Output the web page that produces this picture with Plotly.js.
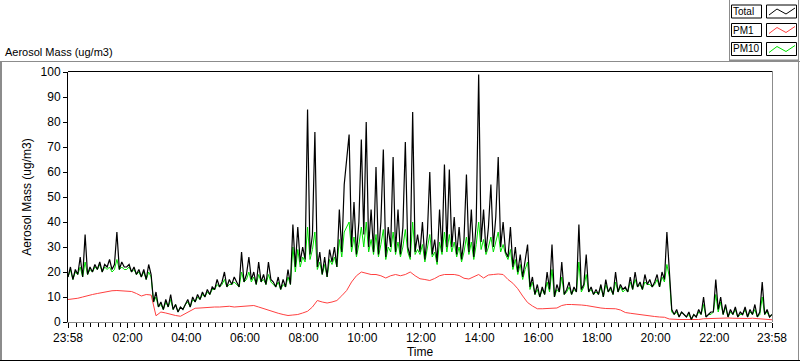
<!DOCTYPE html>
<html><head><meta charset="utf-8">
<script src="https://cdn.plot.ly/plotly-3.0.1.min.js"></script>
<style>html,body{margin:0;padding:0;background:#fff}#chart{width:800px;height:361px}</style>
</head><body><div id="chart"></div>
<script>
// ---- data ----
const startTime = Date.UTC(2000, 0, 1, 23, 58);
const stepMinutes = 5;      // Total and PM10 sampling
const pm1StepMinutes = 10;  // PM1 sampling

const total = [
  18, 22, 17, 21, 19, 26, 18, 35, 19, 22, 20, 23,
  21, 24, 20, 23, 22, 25, 21, 23, 36, 21, 24, 22,
  22, 23, 20, 22, 19, 21, 18, 21, 17, 23, 19, 8,
  12, 6, 8, 5, 9, 6, 11, 5, 7, 4, 6, 5,
  7, 9, 6, 10, 8, 11, 9, 12, 10, 13, 11, 14,
  13, 17, 14, 16, 20, 14, 17, 15, 18, 16, 14, 28,
  16, 19, 26, 17, 20, 15, 24, 16, 19, 15, 24, 17,
  16, 14, 18, 13, 17, 14, 21, 15, 39, 22, 38, 24,
  30, 25, 85, 27, 35, 76, 22, 28, 19, 26, 18, 29,
  24, 30, 22, 45, 28, 55, 64, 75, 30, 48, 27, 40,
  73, 35, 80, 30, 45, 28, 62, 27, 40, 69, 26, 38,
  30, 66, 28, 45, 27, 38, 72, 30, 26, 84, 28, 35,
  28, 40, 25, 35, 60, 27, 33, 24, 45, 28, 63, 30,
  61, 30, 42, 27, 38, 25, 33, 59, 28, 45, 26, 40,
  99, 32, 45, 28, 38, 55, 30, 42, 66, 30, 40, 28,
  26, 38, 22, 30, 20, 27, 18, 24, 31, 14, 18, 11,
  15, 10, 14, 11, 20, 13, 31, 10, 15, 12, 24, 11,
  13, 16, 11, 14, 12, 39, 13, 15, 27, 12, 14, 11,
  13, 11, 15, 10, 17, 12, 14, 11, 20, 12, 15, 13,
  14, 12, 18, 13, 20, 14, 16, 13, 19, 15, 17, 14,
  16, 19, 14, 20, 17, 36, 22, 5, 3, 5, 2, 4,
  3, 2, 4, 1, 3, 2, 5, 3, 10, 2, 3, 4,
  4, 17, 5, 10, 3, 7, 2, 5, 3, 6, 2, 4,
  3, 6, 2, 5, 3, 7, 2, 4, 16, 3, 5, 2,
  3
];

const pm10 = [
  18, 21, 17, 20, 19, 22, 18, 24, 19, 21, 20, 22,
  21, 23, 20, 22, 21, 22, 20, 21, 25, 21, 22, 21,
  21, 22, 20, 21, 19, 20, 18, 20, 17, 20, 18, 8,
  10, 6, 7, 5, 8, 6, 9, 5, 7, 4, 6, 5,
  7, 8, 6, 9, 8, 10, 9, 11, 10, 12, 11, 13,
  13, 15, 14, 15, 17, 14, 15, 15, 16, 15, 14, 20,
  16, 17, 20, 16, 18, 15, 19, 16, 17, 15, 19, 16,
  15, 14, 16, 13, 15, 14, 18, 15, 30, 20, 29, 22,
  26, 24, 38, 25, 29, 36, 21, 24, 19, 23, 18, 25,
  23, 26, 22, 33, 26, 36, 38, 40, 28, 34, 26, 31,
  38, 30, 40, 28, 33, 27, 35, 26, 31, 37, 25, 30,
  28, 36, 27, 32, 26, 30, 37, 28, 25, 40, 27, 29,
  27, 31, 24, 29, 35, 26, 28, 23, 32, 27, 36, 28,
  35, 28, 32, 26, 30, 24, 28, 34, 27, 32, 25, 31,
  40, 29, 33, 27, 30, 34, 28, 32, 36, 28, 31, 27,
  25, 29, 21, 25, 19, 23, 17, 21, 24, 13, 16, 11,
  13, 10, 13, 11, 16, 12, 21, 10, 13, 12, 18, 11,
  12, 14, 11, 13, 12, 24, 12, 14, 19, 12, 13, 11,
  12, 11, 14, 10, 15, 12, 13, 11, 16, 12, 14, 12,
  13, 12, 16, 13, 17, 14, 15, 13, 16, 15, 15, 14,
  15, 17, 14, 18, 16, 23, 18, 4, 3, 4, 2, 4,
  3, 2, 3, 1, 3, 2, 4, 3, 7, 2, 3, 3,
  4, 11, 4, 8, 3, 6, 2, 4, 3, 5, 2, 3,
  3, 5, 2, 4, 3, 5, 2, 3, 10, 3, 4, 2,
  3
];

const pm1 = [
  9, 9.2, 9.5, 10, 10.6, 11,
  11.4, 11.8, 12.2, 12.5, 12.6, 12.5,
  12.6, 12.2, 11.4, 10.4, 11, 10.8,
  2.5, 4, 3.6, 3, 2.6, 2.3,
  3.4, 4.6, 5.5, 5.6, 5.8, 6,
  6, 6, 6.2, 6.3, 6, 6.1,
  6.2, 6.3, 6.6, 6, 5.3, 4.6,
  4, 3.5, 3, 2.6, 2.8, 3,
  3.6, 4.3, 6, 8.6, 8, 7.6,
  8, 8.6, 10.5, 12.6, 16, 18.5,
  20, 19.6, 19, 19, 18.5, 17.6,
  18.5, 19, 18.5, 19, 20, 18.5,
  17.3, 17, 16.6, 17.4, 18.5, 19,
  19, 19, 18.6, 17.5, 17.2, 18.2,
  19, 17.6, 18.8, 19, 19.2, 19,
  17, 15.5, 13.3, 10.4, 7.8, 6.4,
  5.3, 5.3, 5.4, 5.2, 5.6, 6.6,
  7, 7, 7, 6.8, 6.6, 6.2,
  5.8, 5.6, 5.4, 5.3, 5.3, 4.8,
  3.8, 3.5, 3.2, 2.8, 2.6, 2.4,
  2.2, 2, 1.9, 1.2, 1, 1,
  1, 1, 0.9, 1, 1.3, 1.4,
  1.5, 1.4, 1.5, 1.6, 1.5, 1.4,
  1.5, 1.4, 1.5, 1.3, 1.4, 1.2,
  0.9
];

const tickLabels = ['23:58', '02:00', '04:00', '06:00', '08:00', '10:00', '12:00',
                    '14:00', '16:00', '18:00', '20:00', '22:00', '23:58'];
const seriesNames = ['Total', 'PM1', 'PM10'];
const seriesColors = ['#000000', '#ff4040', '#00e000'];

// ---- helpers ----
function stamp(ms) { return new Date(ms).toISOString().replace('T', ' ').slice(0, 19); }
function times(n, step) { const a = []; for (let i = 0; i < n; i++) a.push(stamp(startTime + i * step * 60000)); return a; }
const endTime = startTime + 24 * 60 * 60000;
const tickVals = [stamp(startTime)];
for (let h = 2; h <= 22; h += 2) tickVals.push(stamp(Date.UTC(2000, 0, 2, h, 0)));
tickVals.push(stamp(endTime));

const W = 800, H = 361;
const M = {l: 68, r: 28, t: 72, b: 39};
const PW = W - M.l - M.r, PH = H - M.t - M.b;
const px = x => (x - M.l) / PW;
const py = y => (H - M.b - y) / PH;
const FONT = 'Liberation Sans, Arial, sans-serif';

const traces = [
  {x: times(pm10.length, stepMinutes), y: pm10, mode: 'lines', line: {color: seriesColors[2], width: 1}, name: 'PM10'},
  {x: times(pm1.length, pm1StepMinutes), y: pm1, mode: 'lines', line: {color: seriesColors[1], width: 1}, name: 'PM1'},
  {x: times(total.length, stepMinutes), y: total, mode: 'lines', line: {color: seriesColors[0], width: 1.2}, name: 'Total'}
];

const shapes = [];
const annotations = [];
function line(x0, y0, x1, y1, color, width) {
  shapes.push({type: 'line', xref: 'paper', yref: 'paper', x0: px(x0), y0: py(y0), x1: px(x1), y1: py(y1), line: {color: color, width: width}});
}
function rect(x0, y0, x1, y1) {
  shapes.push({type: 'rect', xref: 'paper', yref: 'paper', x0: px(x0), y0: py(y0), x1: px(x1), y1: py(y1), line: {color: '#000', width: 1}, fillcolor: 'rgba(0,0,0,0)'});
}
// outer panel frame
line(0, 61.5, 800, 61.5, '#8c8c8c', 1);
line(1, 61, 1, 361, '#8c8c8c', 2);
line(798.5, 0, 798.5, 361, '#8c8c8c', 1);
line(0, 360.5, 800, 360.5, '#000', 1);
// legend frame
line(729.5, 0, 729.5, 61, '#8c8c8c', 1);
line(729, 60.5, 799, 60.5, '#8c8c8c', 2);
// plot border top / right
line(M.l, 71.5, 772.5, 71.5, '#000', 1);
line(772.5, 71.5, 772.5, 322, '#8c8c8c', 1);

// legend entries
const rowTop = [5, 23.5, 42.5];
seriesNames.forEach((nm, i) => {
  const t = rowTop[i];
  rect(731.5, t, 761.5, t + 13);
  rect(766.5, t, 796.5, t + 13);
  const pts = [[769, t + 10], [777, t + 4], [786, t + 9], [795, t + 3]];
  shapes.push({type: 'path', xref: 'paper', yref: 'paper',
    path: 'M' + pts.map(p => px(p[0]) + ',' + py(p[1])).join(' L'),
    line: {color: seriesColors[i], width: 1}});
  annotations.push({xref: 'paper', yref: 'paper', x: px(732), y: py(t + 6.5), text: nm, showarrow: false,
    xanchor: 'left', yanchor: 'middle', xshift: -1, font: {family: FONT, size: 10, color: '#000'}});
});
annotations.push({xref: 'paper', yref: 'paper', x: px(3), y: py(52), text: 'Aerosol Mass (ug/m3)', showarrow: false,
  xanchor: 'left', yanchor: 'middle', font: {family: FONT, size: 11, color: '#000'}});

const layout = {
  width: W, height: H, margin: M,
  paper_bgcolor: '#fff', plot_bgcolor: '#fff',
  showlegend: false,
  font: {family: FONT, size: 11, color: '#000'},
  xaxis: {
    type: 'date', range: [stamp(startTime), stamp(endTime)],
    tickmode: 'array', tickvals: tickVals, ticktext: tickLabels,
    ticks: 'outside', ticklen: 5, tickcolor: '#000', tickwidth: 1,
    minor: {tickmode: 'linear', tick0: stamp(Date.UTC(2000, 0, 2, 0, 0)), dtick: 15 * 60000, ticks: 'outside', ticklen: 4, tickcolor: '#000', showgrid: false},
    showline: true, linecolor: '#8c8c8c', linewidth: 1,
    showgrid: false, zeroline: false, automargin: false,
    tickfont: {family: FONT, size: 12},
    title: {text: 'Time', font: {family: FONT, size: 12}, standoff: 3}
  },
  yaxis: {
    range: [0, 100], dtick: 10, tick0: 0,
    ticks: 'outside', ticklen: 4, tickcolor: '#000',
    showline: true, linecolor: '#000', linewidth: 1,
    showgrid: false, zeroline: false, automargin: false,
    tickfont: {family: FONT, size: 12},
    title: {text: 'Aerosol Mass (ug/m3)', font: {family: FONT, size: 12}, standoff: 6}
  },
  shapes: shapes, annotations: annotations
};

Plotly.newPlot('chart', traces, layout, {displayModeBar: false, staticPlot: true});
</script></body></html>
